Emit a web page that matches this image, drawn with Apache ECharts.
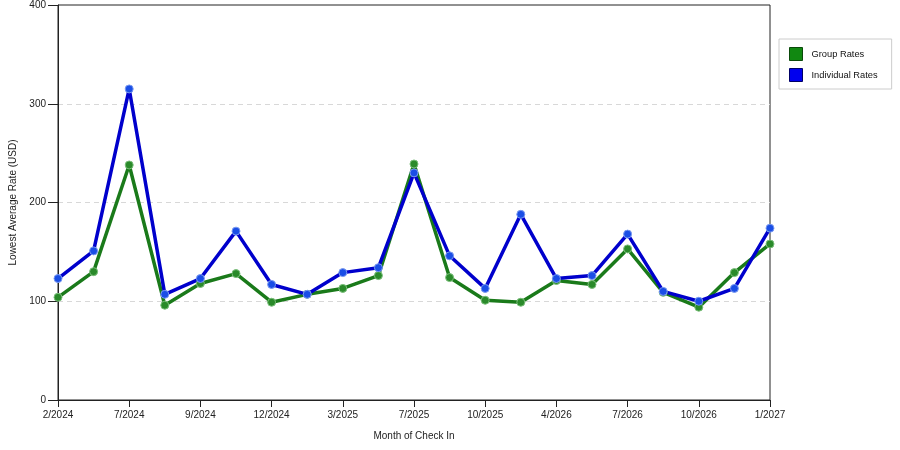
<!DOCTYPE html>
<html>
<head>
<meta charset="utf-8">
<script src="https://cdn.jsdelivr.net/npm/echarts@6/dist/echarts.min.js"></script>
<style>
html,body{margin:0;padding:0;background:#fff;}
#chart{width:900px;height:450px;}
</style>
</head>
<body>
<div id="chart"></div>
<script>
const months = ['2/2024','5/2024','7/2024','8/2024','9/2024','11/2024','12/2024','2/2025','3/2025','5/2025','7/2025','8/2025','10/2025','1/2026','4/2026','5/2026','7/2026','9/2026','10/2026','12/2026','1/2027'];
const groupRates = [104,130,238,96,118,128,99,107,113,126,239,124,101,99,121,117,153,109,94,129,158];
const individualRates = [123,151,315,107,123,171,117,107,129,134,230,146,113,188,123,126,168,110,100,113,174];
const yTicks = [0,100,200,300,400];

const font = 'Liberation Sans, Arial, sans-serif';
const chart = echarts.init(document.getElementById('chart'), null, {renderer:'canvas'});
chart.setOption({
  animation: false,
  backgroundColor: '#fff',
  grid: {left: 58, right: 130, top: 5, bottom: 50, show: true, borderColor: '#222', borderWidth: 1, backgroundColor: 'transparent'},
  legend: {
    orient: 'vertical', left: 779, top: 39,
    padding: [8, 14, 7, 10], itemGap: 7,
    itemWidth: 13, itemHeight: 13, icon: 'rect',
    borderColor: '#ccc', borderWidth: 1,
    textStyle: {fontFamily: font, fontSize: 9.3, color: '#111', padding: [0, 0, 0, 4]},
    data: [
      {name: 'Group Rates', itemStyle: {color: '#118811', borderColor: '#0a4a0a', borderWidth: 1}},
      {name: 'Individual Rates', itemStyle: {color: '#0000ee', borderColor: '#000066', borderWidth: 1}}
    ]
  },
  xAxis: {
    type: 'category', data: months, boundaryGap: false,
    name: 'Month of Check In', nameLocation: 'middle', nameGap: 31,
    nameTextStyle: {fontFamily: font, fontSize: 10, color: '#222'},
    axisLine: {lineStyle: {color: '#222', width: 1}},
    axisTick: {show: true, interval: 1, length: 7, lineStyle: {color: '#222'}},
    axisLabel: {interval: 1, fontFamily: font, fontSize: 10, color: '#222', margin: 10},
    splitLine: {show: false}
  },
  yAxis: {
    type: 'value', min: yTicks[0], max: yTicks[yTicks.length-1], interval: 100,
    name: 'Lowest Average Rate (USD)', nameLocation: 'middle', nameGap: 35,
    nameTextStyle: {fontFamily: font, fontSize: 10, color: '#222'},
    axisLine: {show: true, lineStyle: {color: '#222', width: 1}},
    axisTick: {show: true, length: 10, lineStyle: {color: '#222'}},
    axisLabel: {fontFamily: font, fontSize: 10, color: '#222', margin: 12},
    splitLine: {show: true, showMinLine: false, showMaxLine: false, lineStyle: {color: '#d8d8d8', type: [5, 4], width: 1}}
  },
  series: [
    {
      name: 'Group Rates', type: 'line', data: groupRates,
      symbol: 'circle', symbolSize: 8,
      lineStyle: {color: '#1a7a1a', width: 3.5},
      itemStyle: {color: '#2a8a2a', borderColor: '#7abf7a', borderWidth: 1},
      color: '#118811'
    },
    {
      name: 'Individual Rates', type: 'line', data: individualRates,
      symbol: 'circle', symbolSize: 8,
      lineStyle: {color: '#0000cc', width: 3.5},
      itemStyle: {color: '#1a4ee6', borderColor: '#7a9af0', borderWidth: 1},
      color: '#0000ee'
    }
  ]
});
</script>
</body>
</html>
